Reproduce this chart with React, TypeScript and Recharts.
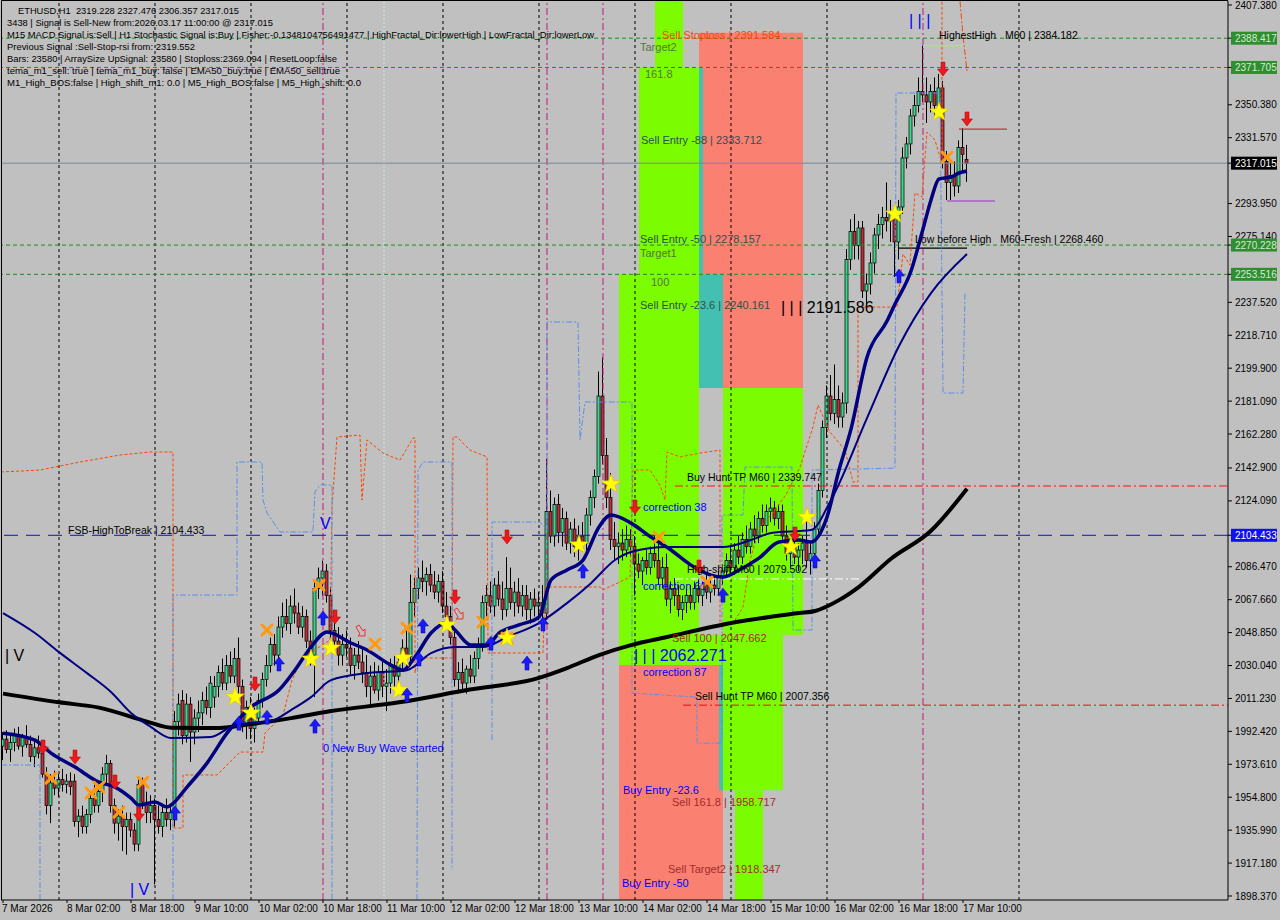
import React from "react";
import {
  ComposedChart,
  Bar,
  Line,
  Scatter,
  XAxis,
  YAxis,
  ReferenceArea,
  ReferenceLine,
} from "recharts";

// ---------------- DATA ----------------
// hourly candles, bar 0 = 7 Mar 10:00 ... bar 241 = 17 Mar 11:00  [open, high, low, close]
const ohlc: number[][] = [
  [1984,1992,1976,1988],[1988,1993,1980,1982],[1982,1990,1975,1986],[1986,1994,1981,1990],[1990,1995,1982,1984],
  [1984,1991,1978,1989],[1989,1996,1983,1985],[1985,1990,1975,1978],[1978,1987,1972,1983],[1983,1990,1977,1980],
  [1980,1983,1966,1968],[1968,1972,1945,1950],[1950,1968,1940,1963],[1963,1970,1956,1960],[1960,1968,1955,1965],
  [1965,1971,1958,1962],[1962,1968,1957,1964],[1964,1969,1956,1961],[1964,1968,1938,1941],[1941,1948,1932,1944],
  [1944,1950,1934,1938],[1938,1948,1934,1945],[1945,1958,1940,1954],[1954,1962,1946,1950],[1950,1962,1946,1958],
  [1958,1972,1952,1968],[1968,1979,1962,1974],[1974,1976,1946,1950],[1950,1954,1934,1940],[1940,1948,1930,1944],
  [1944,1950,1924,1938],[1938,1946,1922,1942],[1942,1946,1932,1936],[1936,1940,1924,1928],[1928,1966,1924,1962],
  [1962,1966,1948,1952],[1952,1958,1940,1946],[1946,1956,1940,1950],[1950,1954,1905,1942],[1942,1950,1934,1938],
  [1938,1950,1932,1946],[1946,1954,1938,1942],[1942,1950,1936,1946],[1946,2004,1938,1998],[1998,2014,1990,2008],
  [2010,2016,1985,1990],[1990,2014,1986,2008],[2008,2012,1975,1992],[1992,2005,1985,2000],[2000,2010,1992,2003],
  [2003,2015,1996,2010],[2010,2018,2002,2006],[2006,2024,2000,2020],[2012,2024,2006,2018],[2018,2030,2012,2026],
  [2026,2034,2016,2020],[2020,2036,2016,2030],[2030,2038,2020,2024],[2024,2040,2020,2034],[2034,2046,2014,2018],
  [2018,2022,1992,1996],[1996,2010,1988,2006],[2006,2012,1988,1994],[1994,2006,1986,2000],[2000,2014,1996,2010],
  [2010,2026,2006,2022],[2022,2036,2018,2030],[2030,2046,2026,2042],[2042,2048,2030,2036],[2036,2058,2032,2052],
  [2052,2066,2046,2058],[2058,2068,2050,2054],[2054,2070,2048,2064],[2064,2074,2054,2060],[2060,2066,2048,2052],
  [2052,2064,2046,2058],[2058,2062,2040,2044],[2044,2050,2030,2036],[2036,2078,2012,2074],[2074,2086,2068,2080],
  [2080,2090,2070,2084],[2084,2088,2066,2070],[2070,2075,2046,2050],[2050,2058,2040,2044],[2044,2052,2030,2036],
  [2036,2048,2030,2042],[2042,2050,2035,2040],[2040,2046,2025,2030],[2030,2040,2022,2036],[2036,2044,2028,2032],
  [2032,2040,2020,2026],[2026,2036,2012,2018],[2018,2030,2008,2024],[2024,2032,2014,2016],[2016,2030,2010,2026],
  [2026,2032,2012,2018],[2018,2028,2004,2020],[2020,2034,2014,2030],[2030,2036,2018,2024],[2024,2036,2020,2032],
  [2032,2045,2028,2040],[2040,2050,2030,2035],[2035,2082,2032,2066],[2066,2080,2058,2074],[2074,2086,2068,2080],
  [2080,2090,2072,2078],[2078,2086,2070,2082],[2082,2088,2072,2076],[2076,2084,2068,2072],[2072,2082,2066,2078],
  [2078,2084,2060,2064],[2064,2072,2052,2058],[2058,2064,2042,2046],[2046,2050,2018,2022],[2022,2032,2014,2026],
  [2026,2034,2016,2020],[2020,2030,2014,2028],[2028,2036,2020,2024],[2024,2038,2020,2034],[2034,2046,2028,2042],
  [2042,2070,2038,2066],[2066,2076,2058,2070],[2070,2078,2060,2064],[2064,2080,2058,2076],[2076,2084,2064,2068],
  [2068,2078,2056,2062],[2062,2092,2058,2074],[2074,2086,2062,2066],[2066,2078,2058,2072],[2072,2080,2060,2064],
  [2064,2076,2058,2070],[2070,2076,2056,2062],[2062,2072,2054,2068],[2068,2074,2058,2064],[2064,2072,2056,2066],
  [2066,2076,2054,2060],[2060,2148,2056,2118],[2118,2130,2100,2104],[2104,2126,2098,2122],[2122,2128,2100,2106],
  [2106,2120,2098,2114],[2114,2118,2096,2100],[2100,2112,2094,2108],[2108,2114,2092,2098],[2098,2110,2090,2104],
  [2104,2112,2095,2100],[2100,2120,2096,2116],[2116,2130,2110,2126],[2126,2142,2120,2138],[2138,2198,2134,2184],
  [2184,2206,2145,2150],[2150,2160,2120,2126],[2126,2140,2096,2102],[2102,2112,2090,2098],[2098,2106,2088,2100],
  [2100,2108,2090,2096],[2096,2110,2092,2102],[2102,2108,2092,2098],[2098,2104,2070,2088],[2088,2094,2080,2084],
  [2084,2092,2076,2090],[2090,2096,2082,2086],[2086,2098,2082,2094],[2094,2104,2086,2090],[2090,2100,2076,2080],
  [2080,2092,2074,2086],[2086,2094,2064,2068],[2068,2078,2060,2074],[2074,2080,2064,2070],[2070,2076,2058,2062],
  [2062,2070,2056,2066],[2066,2074,2060,2070],[2070,2076,2062,2066],[2066,2078,2062,2074],[2074,2080,2066,2070],
  [2070,2078,2064,2076],[2076,2082,2068,2072],[2072,2080,2066,2076],[2076,2082,2070,2074],[2074,2084,2070,2080],
  [2080,2088,2076,2084],[2084,2094,2080,2090],[2090,2098,2082,2086],[2086,2100,2082,2096],[2096,2104,2088,2092],
  [2092,2106,2088,2102],[2102,2110,2094,2098],[2098,2112,2094,2108],[2108,2116,2100,2104],[2104,2118,2100,2114],
  [2114,2122,2106,2110],[2110,2122,2106,2118],[2118,2126,2112,2120],[2120,2124,2110,2114],[2114,2122,2108,2118],
  [2118,2122,2102,2104],[2104,2110,2090,2094],[2094,2102,2086,2098],[2098,2104,2088,2092],[2092,2100,2084,2096],
  [2096,2104,2088,2100],[2100,2116,2086,2090],[2090,2100,2082,2094],[2094,2112,2088,2108],[2108,2134,2104,2130],
  [2130,2170,2126,2166],[2166,2190,2160,2184],[2184,2196,2170,2174],[2174,2202,2168,2182],[2182,2190,2166,2172],
  [2172,2186,2166,2180],[2180,2268,2174,2262],[2262,2285,2256,2278],[2278,2288,2262,2270],[2270,2284,2262,2280],
  [2280,2284,2240,2244],[2244,2254,2234,2248],[2248,2266,2242,2260],[2260,2280,2254,2276],[2276,2288,2268,2282],
  [2282,2292,2274,2286],[2286,2306,2278,2284],[2284,2296,2272,2288],[2288,2292,2252,2272],[2272,2296,2262,2292],
  [2292,2326,2288,2320],[2320,2332,2314,2328],[2328,2348,2322,2344],[2344,2356,2338,2350],[2350,2366,2346,2358],
  [2358,2384.182,2352,2356],[2356,2366,2340,2352],[2352,2362,2346,2358],[2358,2366,2344,2350],[2350,2368,2344,2360],
  [2360,2364,2314,2318],[2318,2324,2296,2306],[2306,2318,2296,2310],[2310,2318,2298,2304],[2304,2330,2300,2326],
  [2326,2337,2312,2322],[2319.228,2327.476,2306.357,2317.015],
];

const dateTickIdx = [0,16,32,48,64,80,96,112,128,144,160,176,192,208,224,240];
const dateLabels = ["7 Mar 2026","8 Mar 02:00","8 Mar 18:00","9 Mar 10:00","10 Mar 02:00","10 Mar 18:00","11 Mar 10:00","12 Mar 02:00","12 Mar 18:00","13 Mar 10:00","14 Mar 02:00","14 Mar 18:00","15 Mar 10:00","16 Mar 02:00","16 Mar 18:00","17 Mar 10:00"];

const priceTicks = [2407.38,2350.38,2331.57,2293.95,2275.14,2237.52,2218.71,2199.9,2181.09,2162.28,2142.9,2124.09,2086.47,2067.66,2048.85,2030.04,2011.23,1992.42,1973.61,1954.8,1935.99,1917.18,1898.37];
const greenTags = [2388.417, 2371.705, 2270.228, 2253.516];
const lastPrice = 2317.015;
const breakLevel = 2104.433;

// moving averages [bar, price]
const maLong = [[0,2014],[14,2009],[24,2006],[36,1998],[42,1994.5],[53,1994.3],[62,1996.6],[72,2000],[82,2004],[99,2009],[116,2016],[134,2023],[141,2028.6],[149,2036],[157,2041.7],[166,2046.3],[182,2054.3],[199,2060],[203,2061.2],[209,2067.4],[214,2075],[222,2091],[232,2107],[241,2131]];
const maFast = [[0,1991.4],[8,1987.4],[12,1980],[18,1972],[24,1963.4],[28,1960.6],[32,1954.3],[34,1950.3],[38,1952],[41,1949.2],[42,1950.3],[46,1960.6],[51,1974.3],[56,1991.4],[62,2006.3],[69,2016],[73,2027.4],[77,2040.6],[81,2049.2],[87,2042.9],[91,2038.9],[97,2030.3],[100,2027.4],[103,2034.9],[107,2048.6],[111,2054.3],[113,2050.3],[117,2041.7],[121,2041.7],[124,2048.6],[129,2053.2],[134,2057.7],[137,2078.9],[141,2084.6],[145,2090.3],[149,2109.2],[152,2116],[157,2111.4],[162,2103.4],[167,2096],[172,2087.4],[177,2081.7],[180,2080.6],[184,2084.6],[189,2091.4],[194,2100.6],[199,2101.7],[202,2100.6],[206,2114.8],[209,2141.7],[212,2165.1],[216,2206.2],[221,2226.8],[223,2236.5],[227,2255.4],[230,2279.4],[232,2296],[234,2308],[237,2309.1],[239,2311.4],[241,2312.5]];
const maMid = [[0,2060],[8,2048.6],[14,2037.7],[21,2025.7],[27,2014.9],[32,2002.9],[37,1994.9],[42,1988.6],[52,1989.2],[57,1994.9],[62,1997.1],[67,1998.3],[72,2004.6],[77,2012],[82,2021.7],[91,2025.7],[101,2027.4],[107,2037.1],[113,2040.6],[120,2040.6],[126,2046.3],[134,2054.3],[141,2065.7],[147,2077.1],[153,2090.3],[157,2094.9],[166,2097.7],[180,2097.7],[187,2101.7],[192,2105.7],[202,2107.4],[207,2124.6],[216,2171.4],[224,2212.6],[232,2242.8],[241,2265.1]];

// fractal channel step lines [bar, price]
const fracOrange = [[-0.5,2140.6],[9.25,2141.7],[19.25,2146.3],[29.25,2150.3],[36.75,2152],[42.5,2152],[42.5,1937.2],[45,1937.2],[45,1967.5],[53.5,1967.5],[59.25,1980.6],[65,1980.6],[65.5,1991.5],[70,2001.7],[72.25,2021.7],[74.25,2031.5],[76.75,2037.2],[81.75,2044.6],[82.25,2120.6],[83.5,2160.6],[89.25,2161.7],[89.75,2124.6],[91,2158.9],[95,2151.4],[99.25,2147.4],[102.5,2160],[103,2160],[103,2025.7],[103.75,2034.3],[112.25,2034.3],[112.5,2160.6],[113.5,2160.6],[116.75,2153.1],[121,2149.2],[121.25,2037.2],[135,2037.2],[135.5,2074.9],[149.25,2074.9],[150,2073.2],[156.75,2080.6],[157.5,2141.7],[161.75,2141.7],[164.25,2133.1],[165.5,2124.6],[166,2152],[169.25,2149.2],[174.25,2151.4],[179.25,2153.1],[179.25,2054.3],[182.5,2054.3],[185,2063.3],[186.75,2090.3],[189.25,2109.2],[192.5,2117.2],[196,2128.6],[199.25,2143.4],[202.5,2166.3],[203.75,2178.9],[206.75,2163.4],[210.5,2153.1],[212.5,2134.9],[213.75,2134.9],[213.75,2234.8],[223.5,2234.8],[225,2265.1],[226.75,2258.8],[228,2300],[229.75,2297.7],[231,2334.8],[233,2330.2],[234.25,2320.5],[234.75,2320.5],[234.75,2409.5]];
const fracOrange2 = [[239.25,2409.5],[240,2390],[241,2369.7]];
const fracBlue1 = [[-0.5,1973.2],[9.25,1973.2],[9.25,1896.1]];
const fracBlue2 = [[42.5,1896.1],[42.5,2070.3],[58.5,2070.3],[58.5,2146.3],[64.75,2146.3],[65,2124.6],[66,2117.2],[69.25,2106.3],[77.5,2106.3],[78,2129.2],[79.25,2133.2],[82.25,2133.2],[82.25,1896.1]];
const fracBlue3 = [[103.5,1896.1],[103.75,2141.7],[105,2146.3],[112.25,2146.3],[112.25,1913.2]];
const fracBlue4 = [[122.25,1987.4],[122.25,2112],[134.25,2112],[136,2107.4],[136,2226.3],[143.75,2226.3],[144.25,2158.9],[145.5,2180.6],[157.25,2180.6],[157.25,2014.3],[173.5,2012],[173.5,1985.7],[179.75,1985.7],[179.75,2116],[185,2116],[185.5,2143.4],[197.25,2143.4],[197.5,2050.3],[202.25,2050.3],[202.25,2141.7],[223,2142.8],[223.25,2357.1],[234.25,2357.1],[235,2185.7],[240,2185.7],[240.5,2242.8]];

// signal markers [bar, price]
const sellArrows = [[10,1982.9],[18,1977.2],[28,1962.9],[34,1944.6],[63,2018.9],[83,2057.2],[113,2068.6],[126,2102.9],[158,2120],[174,2085.7],[198,2104.6],[235,2370.2],[241,2341.7]];
const buyArrows = [[43,1946.3],[59,1997.7],[66,2001.1],[69,2031.5],[78,1996],[80,2057.7],[101,2013.7],[104,2034.3],[105,2053.2],[122,2043.4],[131,2032],[135,2054.3],[145,2084.6],[180,2070.8],[203,2090.3],[224,2253.1]];
const stars = [[58,2012],[62,2002.9],[77,2033.7],[82,2040],[99,2016],[100,2034.3],[111,2053.2],[126,2045.7],[144,2098.9],[152,2133.7],[197,2097.7],[201,2114.8],[223,2288],[234,2346.2]];
const crosses = [[12,1965.7],[22,1957.2],[24,1960.6],[29,1946.3],[35,1963.4],[66,2050.3],[79,2076],[93,2042.3],[101,2051.4],[120,2054.9],[126,2045.7],[164,2103.4],[176,2077.7],[236,2320.5]];
const hollowArrows = [[89.5,2049.2],[114,2058.9]];

// zones [bar1, bar2, price1, price2]
const greenZones = [[163,170,2371.705,2409.6],[159,174,2253.516,2371.705],[154,174,2030.3,2253.516],[180,200,2047.662,2188.6],[174,195,1958.717,2047.662],[183,190,1896.1,1958.717]];
const salmonZones = [[174,200,2371.705,2391.584],[175,200,2253.516,2371.705],[180,200,2188.6,2253.516],[154,180,1896.1,2030.3]];
const tealZones = [[174,175,2253.516,2371.705],[174,180,2188.6,2253.516],[179,180,1958.717,2030.3]];

// vertical markers (bar index)
const gridBars = [14,38,62,86,110,134,158,182,206,254];
const sessionBars = [80,136,150,230];
const cyanBars = [95.25];

// text labels {bar, price, text}
const stopLabels = [{ i: 164.75, v: 2390.2, t: "Sell Stoploss | 2391.584" }];
const targetLabels = [
  { i: 159.25, v: 2383.4, t: "Target2" },
  { i: 160.5, v: 2368.0, t: "161.8" },
  { i: 159.25, v: 2265.7, t: "Target1" },
  { i: 162, v: 2249.1, t: "100" },
];
const entryLabels = [
  { i: 159.5, v: 2330.2, t: "Sell Entry -88 | 2333.712" },
  { i: 159.25, v: 2273.7, t: "Sell Entry -50 | 2278.157" },
  { i: 159.25, v: 2236.0, t: "Sell Entry -23.6 | 2240.161" },
];
const blackLabels = [
  { i: 171, v: 2137.7, t: "Buy Hunt TP M60 | 2339.747" },
  { i: 171, v: 2085.2, t: "High-shift M60 | 2079.502" },
  { i: 173, v: 2012.6, t: "Sell Hunt TP M60 | 2007.356" },
  { i: 234, v: 2390.2, t: "HighestHigh   M60 | 2384.182" },
  { i: 228, v: 2273.7, t: "Low before High   M60-Fresh | 2268.460" },
  { i: 16.25, v: 2107.4, t: "FSB-HighToBreak | 2104.433" },
];
const blueLabels = [
  { i: 160, v: 2120.6, t: "correction 38" },
  { i: 160, v: 2075.5, t: "correction 61" },
  { i: 160, v: 2026.3, t: "correction 87" },
  { i: 155, v: 1958.9, t: "Buy Entry -23.6" },
  { i: 154.75, v: 1905.8, t: "Buy Entry -50" },
  { i: 80, v: 1982.9, t: "0 New Buy Wave started" },
];
const brownLabels = [
  { i: 167.25, v: 2045.7, t: "Sell 100 | 2047.662" },
  { i: 167.25, v: 1952.1, t: "Sell 161.8 | 1958.717" },
  { i: 166.25, v: 1913.8, t: "Sell Target2 | 1918.347" },
];
const bigBlackLabels = [{ i: 194.5, v: 2234.8, t: "| | | 2191.586" }, { i: 0.5, v: 2036.0, t: "| V" }];
const bigBlueLabels = [
  { i: 157.75, v: 2036.0, t: "| | | 2062.271" },
  { i: 31.75, v: 1901.8, t: "| V" },
  { i: 79.25, v: 2111.4, t: "V" },
  { i: 226.5, v: 2398.8, t: "| | |" },
];

const infoLines = [
  "ETHUSD,H1  2319.228 2327.476 2306.357 2317.015",
  "3438 | Signal is Sell-New from:2026.03.17 11:00:00 @ 2317.015",
  "M15 MACD Signal is:Sell | H1 Stochastic Signal is:Buy | Fisher:-0.1348104756491477 | HighFractal_Dir:lowerHigh | LowFractal_Dir:lowerLow",
  "Previous Signal :Sell-Stop-rsi from: 2319.552",
  "Bars: 23580 | ArraySize UpSignal: 23580 | Stoploss:2369.094 | ResetLoop:false",
  "tema_m1_sell: true | tema_m1_buy: false | EMA50_buy:true | EMA50_sell:true",
  "M1_High_BOS:false | High_shift_m1: 0.0 | M5_High_BOS:false | M5_High_shift: 0.0",
];

// ---------------- BUILD ----------------
const candles = ohlc.map((r, i) => ({ i, o: r[0], h: r[1], l: r[2], c: r[3], range: [r[2], r[1]] }));
const rows = (pts: number[][]) => pts.map(([i, v]) => ({ i, v }));

const FONT = "'Liberation Sans', Arial, sans-serif";
const BG = "#c0c0c0";
const Y_DOMAIN: [number, number] = [1896.085, 2409.665];
const X_DOMAIN: [number, number] = [-0.5, 306.25];

const Candle = (props: any) => {
  const { x, y, width, height, payload } = props;
  if (!payload || height == null) return null;
  const { o, h, l, c } = payload;
  const k = height / (h - l || 1);
  const yo = y + (h - o) * k;
  const yc = y + (h - c) * k;
  const cx = Math.floor(x + width / 2) + 0.5;
  const top = Math.min(yo, yc);
  const bh = Math.max(Math.abs(yc - yo), 1);
  const up = c >= o;
  return (
    <g>
      <line x1={cx} x2={cx} y1={y} y2={y + height} stroke="#000" strokeWidth={1} />
      <rect x={cx - 1.5} y={top} width={3} height={bh} fill={up ? "#3ad68c" : "#b8303a"} stroke="#000" strokeWidth={0.7} />
    </g>
  );
};

const DownArrow = (p: any) => {
  const { cx, cy } = p;
  return (
    <polygon
      points={`${cx - 2},${cy - 8} ${cx + 2},${cy - 8} ${cx + 2},${cy - 1} ${cx + 5.5},${cy - 1} ${cx},${cy + 6} ${cx - 5.5},${cy - 1} ${cx - 2},${cy - 1}`}
      fill="#f01818"
      stroke="#b00000"
      strokeWidth={0.5}
    />
  );
};
const UpArrow = (p: any) => {
  const { cx, cy } = p;
  return (
    <polygon
      points={`${cx - 2},${cy + 8} ${cx + 2},${cy + 8} ${cx + 2},${cy + 1} ${cx + 5.5},${cy + 1} ${cx},${cy - 6} ${cx - 5.5},${cy + 1} ${cx - 2},${cy + 1}`}
      fill="#1a1aff"
      stroke="#0000a0"
      strokeWidth={0.5}
    />
  );
};
const HollowArrow = (p: any) => {
  const { cx, cy } = p;
  return (
    <polygon
      points={`${cx - 5},${cy - 5} ${cx - 2},${cy - 7} ${cx + 2},${cy - 1} ${cx + 4},${cy - 3} ${cx + 4},${cy + 4} ${cx - 3},${cy + 4} ${cx - 1},${cy + 2}`}
      fill="none"
      stroke="#e83030"
      strokeWidth={1}
    />
  );
};
const Star = (p: any) => {
  const { cx, cy } = p;
  const pts: string[] = [];
  for (let k = 0; k < 10; k++) {
    const r = k % 2 === 0 ? 10 : 4;
    const a = -Math.PI / 2 + (k * Math.PI) / 5;
    pts.push(`${cx + r * Math.cos(a)},${cy + r * Math.sin(a)}`);
  }
  return <polygon points={pts.join(" ")} fill="#ffff00" stroke="#e0c000" strokeWidth={0.6} />;
};
const Cross = (p: any) => {
  const { cx, cy } = p;
  return (
    <g stroke="#ff9a10" strokeWidth={3} strokeLinecap="round">
      <line x1={cx - 5} y1={cy - 5} x2={cx + 5} y2={cy + 5} />
      <line x1={cx - 5} y1={cy + 5} x2={cx + 5} y2={cy - 5} />
    </g>
  );
};
const makeText = (color: string, size: number) => (p: any) => (
  <text
    x={p.cx}
    y={p.cy}
    fill={color}
    fontSize={size}
    fontFamily={FONT}
    dominantBaseline="central"
    style={{ whiteSpace: "pre" }}
  >
    {p.payload.t}
  </text>
);

const PriceTick = (p: any) => {
  const { x, y, payload } = p;
  const v = payload.value as number;
  const txt = v.toFixed(3);
  let bg: string | null = null;
  let fg = "#000";
  if (greenTags.includes(v)) { bg = "#2f8f2f"; fg = "#d8e8d8"; }
  else if (v === lastPrice) { bg = "#000"; fg = "#fff"; }
  else if (v === breakLevel) { bg = "#1010f0"; fg = "#fff"; }
  return (
    <g>
      <line x1={x} x2={x + 4} y1={y} y2={y} stroke="#000" />
      {bg && <rect x={x + 3} y={y - 6.5} width={46} height={13} fill={bg} />}
      <text x={x + 7} y={y} dominantBaseline="central" fontSize={10} fontFamily={FONT} fill={fg}>
        {txt}
      </text>
    </g>
  );
};

const DateTick = (p: any) => {
  const { x, y, payload } = p;
  const idx = dateTickIdx.indexOf(payload.value);
  return (
    <g>
      <line x1={x} x2={x} y1={y} y2={y + 3} stroke="#000" />
      <text x={idx === 0 ? x - 1 : x} y={y + 12} fontSize={10} fontFamily={FONT} fill="#000" textAnchor="start">
        {dateLabels[idx]}
      </text>
    </g>
  );
};

const infoX = [18, 7, 7, 7, 7, 7, 7];
const infoW = [221, 266, 587, 188, 330, 333, 354];

export default function App() {
  const yTicks = [...priceTicks, ...greenTags, breakLevel, lastPrice];
  return (
    <div style={{ position: "relative", width: 1280, height: 920, background: BG, overflow: "hidden" }}>
      <style>{`body{margin:0;background:${BG};}`}</style>
      <ComposedChart
        width={1280}
        height={920}
        data={candles}
        margin={{ top: 1, right: 0, bottom: 0, left: 1 }}
      >
        {greenZones.map((z, k) => (
          <ReferenceArea key={`g${k}`} x1={z[0]} x2={z[1]} y1={z[2]} y2={z[3]} fill="#7cfc00" fillOpacity={1} stroke="none" ifOverflow="hidden" />
        ))}
        {salmonZones.map((z, k) => (
          <ReferenceArea key={`s${k}`} x1={z[0]} x2={z[1]} y1={z[2]} y2={z[3]} fill="#fa8072" fillOpacity={1} stroke="none" ifOverflow="hidden" />
        ))}
        {tealZones.map((z, k) => (
          <ReferenceArea key={`t${k}`} x1={z[0]} x2={z[1]} y1={z[2]} y2={z[3]} fill="#44c0b2" fillOpacity={1} stroke="none" ifOverflow="hidden" />
        ))}

        <XAxis
          dataKey="i"
          type="number"
          domain={X_DOMAIN}
          allowDataOverflow
          ticks={dateTickIdx}
          interval={0}
          tick={DateTick}
          tickLine={false}
          tickSize={0}
          tickMargin={0}
          axisLine={{ stroke: "#000" }}
          height={20}
        />
        <YAxis
          orientation="right"
          type="number"
          domain={Y_DOMAIN}
          allowDataOverflow
          ticks={yTicks}
          interval={0}
          tick={PriceTick}
          tickLine={false}
          tickSize={0}
          tickMargin={0}
          axisLine={{ stroke: "#000" }}
          width={52}
        />

        {gridBars.map((b) => (
          <ReferenceLine key={`gl${b}`} x={b} stroke="#000" strokeDasharray="3 3" strokeWidth={1} ifOverflow="hidden" />
        ))}
        {sessionBars.map((b) => (
          <ReferenceLine key={`sl${b}`} x={b} stroke="#c0187a" strokeDasharray="7 3 2 3" strokeWidth={1} />
        ))}
        {cyanBars.map((b) => (
          <ReferenceLine key={`cl${b}`} x={b} stroke="#b8ecf4" strokeDasharray="2 2" strokeWidth={1} />
        ))}

        {greenTags.map((v) => (
          <ReferenceLine key={`gt${v}`} y={v} stroke="#1f8a1f" strokeDasharray="4 3" strokeWidth={1} />
        ))}
        <ReferenceLine y={lastPrice} stroke="#778899" strokeWidth={1} />
        <ReferenceLine y={breakLevel} stroke="#1010c8" strokeDasharray="14 8" strokeWidth={1} />
        <ReferenceLine segment={[{ x: 168, y: 2132.6 }, { x: 306.25, y: 2132.6 }]} stroke="#ff1010" strokeDasharray="8 3 2 3" />
        <ReferenceLine segment={[{ x: 170, y: 2007.4 }, { x: 306.25, y: 2007.4 }]} stroke="#e01010" strokeDasharray="8 3 2 3" />
        <ReferenceLine segment={[{ x: 168, y: 2079.502 }, { x: 214, y: 2079.502 }]} stroke="#ffffff" strokeDasharray="8 3 2 3" />
        <ReferenceLine segment={[{ x: 230, y: 2384.182 }, { x: 241, y: 2384.182 }]} stroke="#b4f020" strokeWidth={1.2} />
        <ReferenceLine segment={[{ x: 239, y: 2336.5 }, { x: 251, y: 2336.5 }]} stroke="#c83040" strokeWidth={1.2} />
        <ReferenceLine segment={[{ x: 236, y: 2295.4 }, { x: 248, y: 2295.4 }]} stroke="#9a30d0" strokeWidth={1.2} />
        <ReferenceLine segment={[{ x: 224, y: 2268.46 }, { x: 241, y: 2268.46 }]} stroke="#000" strokeWidth={1.2} />

        <Bar dataKey="range" barSize={3} shape={Candle} isAnimationActive={false} />

        <Line data={rows(fracOrange)} dataKey="v" type="linear" stroke="#ff4500" strokeWidth={1} strokeDasharray="3 2" dot={false} isAnimationActive={false} />
        <Line data={rows(fracOrange2)} dataKey="v" type="linear" stroke="#ff4500" strokeWidth={1} strokeDasharray="6 2 2 2" dot={false} isAnimationActive={false} />
        <Line data={rows(fracBlue1)} dataKey="v" type="linear" stroke="#5b8fe8" strokeWidth={1} strokeDasharray="6 2 2 2" dot={false} isAnimationActive={false} />
        <Line data={rows(fracBlue2)} dataKey="v" type="linear" stroke="#5b8fe8" strokeWidth={1} strokeDasharray="6 2 2 2" dot={false} isAnimationActive={false} />
        <Line data={rows(fracBlue3)} dataKey="v" type="linear" stroke="#5b8fe8" strokeWidth={1} strokeDasharray="6 2 2 2" dot={false} isAnimationActive={false} />
        <Line data={rows(fracBlue4)} dataKey="v" type="linear" stroke="#5b8fe8" strokeWidth={1} strokeDasharray="6 2 2 2" dot={false} isAnimationActive={false} />

        <Line data={rows(maLong)} dataKey="v" type="monotone" stroke="#000" strokeWidth={4} dot={false} isAnimationActive={false} />
        <Line data={rows(maMid)} dataKey="v" type="monotone" stroke="#000080" strokeWidth={2} dot={false} isAnimationActive={false} />
        <Line data={rows(maFast)} dataKey="v" type="monotone" stroke="#000080" strokeWidth={3.5} dot={false} isAnimationActive={false} />

        <Scatter data={rows(crosses)} dataKey="v" shape={Cross} isAnimationActive={false} />
        <Scatter data={rows(stars)} dataKey="v" shape={Star} isAnimationActive={false} />
        <Scatter data={rows(sellArrows)} dataKey="v" shape={DownArrow} isAnimationActive={false} />
        <Scatter data={rows(buyArrows)} dataKey="v" shape={UpArrow} isAnimationActive={false} />
        <Scatter data={rows(hollowArrows)} dataKey="v" shape={HollowArrow} isAnimationActive={false} />

        <Scatter data={stopLabels} dataKey="v" shape={makeText("#ff4500", 11)} isAnimationActive={false} />
        <Scatter data={targetLabels} dataKey="v" shape={makeText("#55743e", 11)} isAnimationActive={false} />
        <Scatter data={entryLabels} dataKey="v" shape={makeText("#2f4f4f", 11)} isAnimationActive={false} />
        <Scatter data={blackLabels} dataKey="v" shape={makeText("#000", 10.5)} isAnimationActive={false} />
        <Scatter data={blueLabels} dataKey="v" shape={makeText("#0000ff", 11)} isAnimationActive={false} />
        <Scatter data={brownLabels} dataKey="v" shape={makeText("#a52a2a", 11)} isAnimationActive={false} />
        <Scatter data={bigBlackLabels} dataKey="v" shape={makeText("#000", 16)} isAnimationActive={false} />
        <Scatter data={bigBlueLabels} dataKey="v" shape={makeText("#0000ff", 16)} isAnimationActive={false} />
      </ComposedChart>

      <svg width={1280} height={920} style={{ position: "absolute", left: 0, top: 0, pointerEvents: "none" }}>
        <line x1={1.5} y1={0.5} x2={1228} y2={0.5} stroke="#000" />
        <line x1={1.5} y1={0.5} x2={1.5} y2={900} stroke="#000" />
        {infoLines.map((t, k) => (
          <text
            key={k}
            x={infoX[k]}
            y={14 + k * 12}
            fontSize={9.5}
            fontFamily={FONT}
            fill="#000"
            textLength={infoW[k]}
            lengthAdjust="spacingAndGlyphs"
            style={{ whiteSpace: "pre" }}
          >
            {t}
          </text>
        ))}
      </svg>
    </div>
  );
}
